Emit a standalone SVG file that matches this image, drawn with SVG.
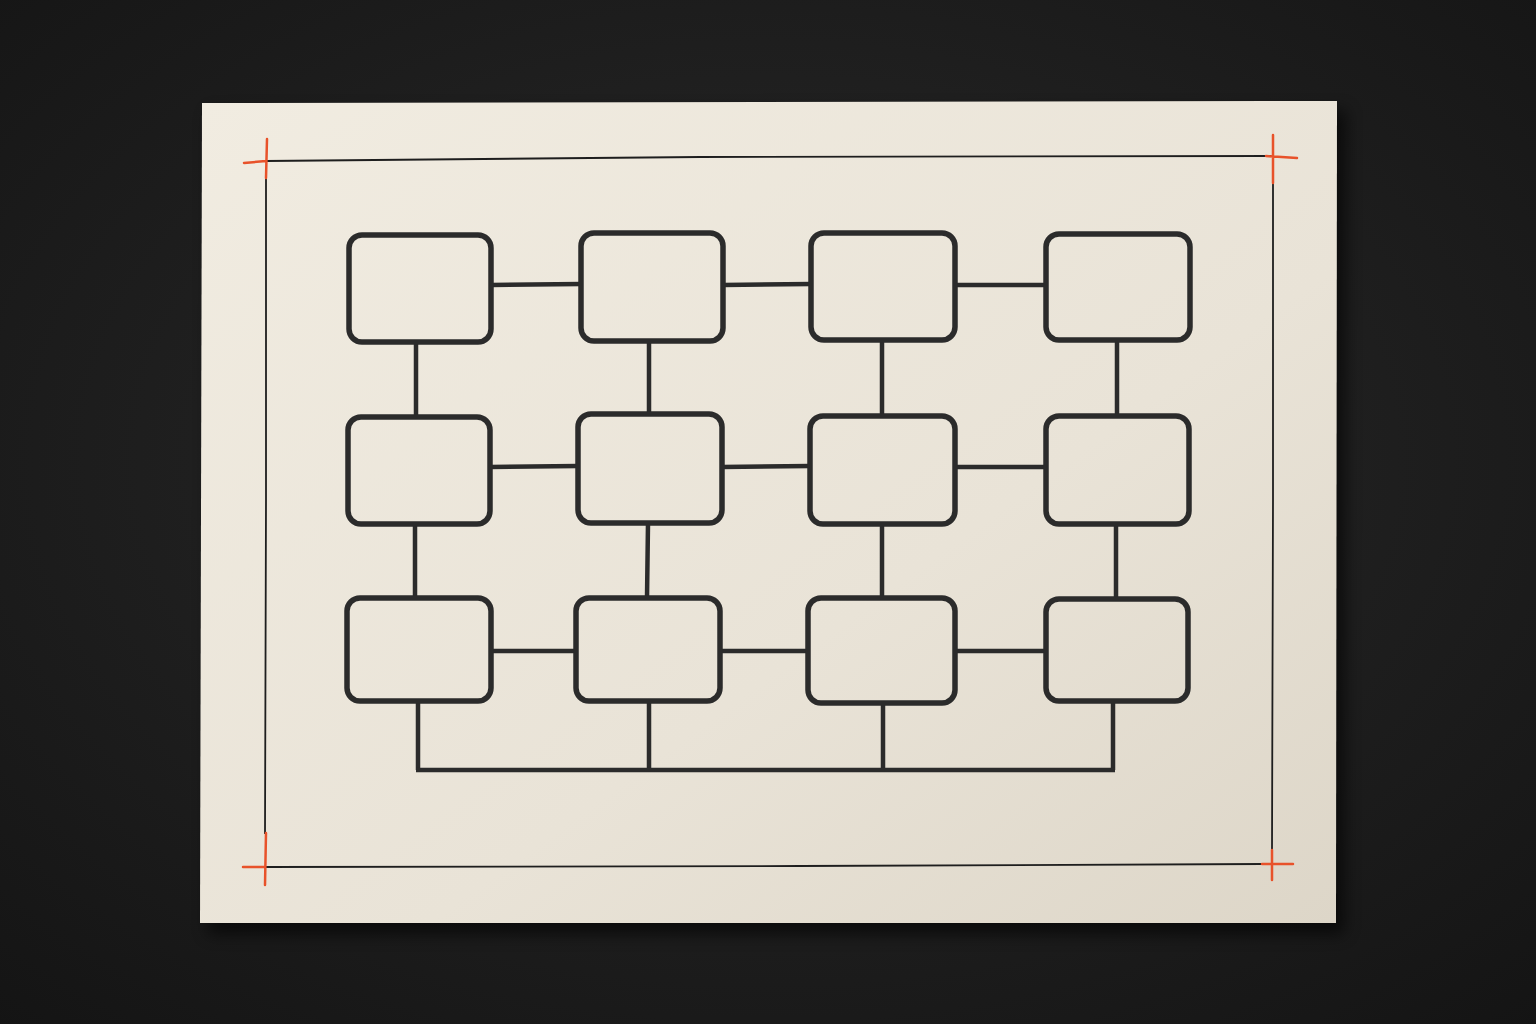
<svg xmlns="http://www.w3.org/2000/svg" width="1536" height="1024" viewBox="0 0 1536 1024">
<defs>
<radialGradient id="bg" cx="50%" cy="45%" r="75%">
<stop offset="0" stop-color="#2a2a2a"/>
<stop offset="1" stop-color="#141414"/>
</radialGradient>
<linearGradient id="paper" x1="0" y1="0" x2="1" y2="1">
<stop offset="0" stop-color="#f1ece1"/>
<stop offset="0.6" stop-color="#e9e3d7"/>
<stop offset="1" stop-color="#ddd6c8"/>
</linearGradient>
<filter id="shadow" x="-5%" y="-5%" width="112%" height="115%">
<feGaussianBlur stdDeviation="8"/>
</filter>
<style>
.box{fill:none;stroke:#2b2b2b;stroke-width:5.5;stroke-linejoin:round}
.con{fill:none;stroke:#2b2b2b;stroke-width:4.5;stroke-linecap:butt}
.frame{fill:none;stroke:#1e1e1e;stroke-width:1.8}
.mark{fill:none;stroke:#e8522a;stroke-width:2.5;stroke-linecap:round}
</style>
</defs>
<rect width="1536" height="1024" fill="url(#bg)"/>
<polygon points="210,112 1346,110 1344,934 208,934" fill="#000" opacity="0.6" filter="url(#shadow)"/>
<polygon points="202,103 1337,101 1336,923 200,923" fill="url(#paper)"/>
<g id="frame">
<path class="frame" d="M266,161 L700,157 L1273,156"/>
<path class="frame" d="M266,178 L266,500 L265,834"/>
<path class="frame" d="M1273,183 L1273,500 L1272,850"/>
<path class="frame" d="M265,867 L800,866 L1263,864"/>
<path class="mark" d="M244,163 L266,161 M267,139 L266,178"/>
<path class="mark" d="M1266,156 L1297,158 M1273,135 L1273,183"/>
<path class="mark" d="M243,867 L265,867 M266,833 L265,885"/>
<path class="mark" d="M1262,864 L1293,864 M1272,850 L1272,880"/>
</g>
<g id="connectors">
<path class="con" d="M491,285 L581,284 M723,285 L811,284 M955,285 L1046,285"/>
<path class="con" d="M490,467 L578,466 M722,467 L810,466 M955,467 L1046,467"/>
<path class="con" d="M491,651 L576,651 M720,651 L808,651 M955,651 L1046,651"/>
<path class="con" d="M416,342 L416,417 M415,524 L415,598"/>
<path class="con" d="M649,341 L649,414 M648,523 L647,598"/>
<path class="con" d="M882,340 L882,416 M882,524 L882,598"/>
<path class="con" d="M1117,340 L1117,416 M1116,524 L1116,599"/>
<path class="con" d="M418,701 L418,770 M649,701 L649,770 M883,703 L883,770 M1113,701 L1113,770"/>
<path class="con" d="M416,770 L700,770 L1115,770"/>
</g>
<g id="n1"><rect class="box" x="349" y="235" width="142" height="107" rx="13"/></g>
<g id="n2"><rect class="box" x="581" y="233" width="142" height="108" rx="13"/></g>
<g id="n3"><rect class="box" x="811" y="233" width="144" height="107" rx="13"/></g>
<g id="n4"><rect class="box" x="1046" y="234" width="144" height="106" rx="13"/></g>
<g id="n5"><rect class="box" x="348" y="417" width="142" height="107" rx="13"/></g>
<g id="n6"><rect class="box" x="578" y="414" width="144" height="109" rx="13"/></g>
<g id="n7"><rect class="box" x="810" y="416" width="145" height="108" rx="13"/></g>
<g id="n8"><rect class="box" x="1046" y="416" width="143" height="108" rx="13"/></g>
<g id="n9"><rect class="box" x="347" y="598" width="144" height="103" rx="13"/></g>
<g id="n10"><rect class="box" x="576" y="598" width="144" height="103" rx="13"/></g>
<g id="n11"><rect class="box" x="808" y="598" width="147" height="105" rx="13"/></g>
<g id="n12"><rect class="box" x="1046" y="599" width="142" height="102" rx="13"/></g>
</svg>
